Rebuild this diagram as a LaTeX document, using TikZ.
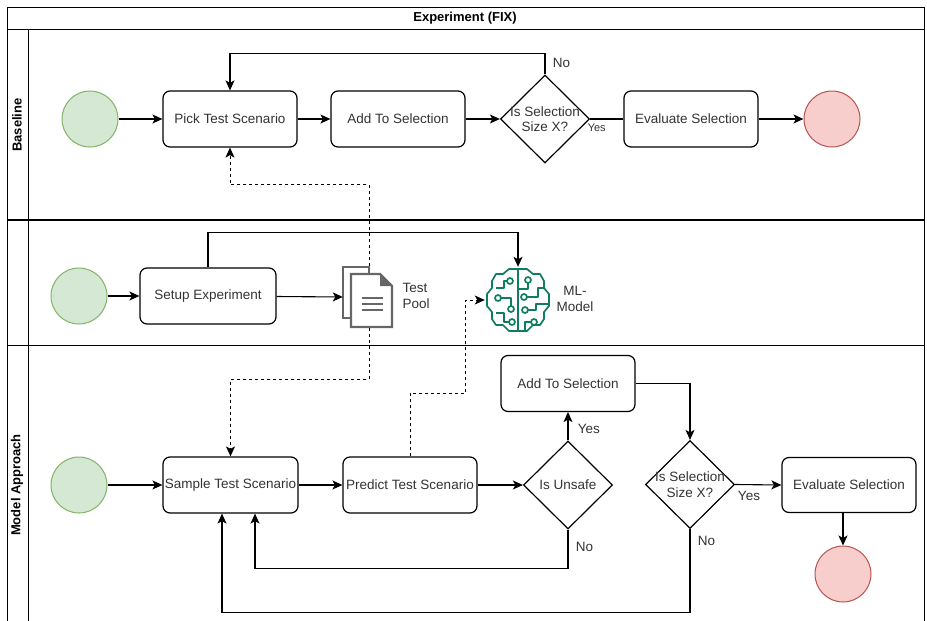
\documentclass[tikz,border=0pt]{standalone}
\usepackage{fontspec}
\setmainfont{Liberation Sans}
\usepackage{xcolor}
\usetikzlibrary{shapes.geometric,arrows.meta,calc,positioning}
\definecolor{startfill}{HTML}{D5E8D4}
\definecolor{startdraw}{HTML}{82B366}
\definecolor{endfill}{HTML}{F8CECC}
\definecolor{enddraw}{HTML}{B85450}
\definecolor{mlgreen}{RGB}{16,125,98}
\definecolor{docgray}{HTML}{666666}
\definecolor{txt}{HTML}{333333}

\begin{document}
\begin{tikzpicture}[x=1pt,y=-1pt,
    every node/.style={font=\fontsize{13.5}{15.5}\selectfont,text=txt},
    task/.style={draw,rounded corners=7pt,line width=1.2pt,minimum width=134pt,minimum height=56pt,inner sep=1pt},
    decision/.style={draw,diamond,line width=1.2pt,minimum width=89pt,minimum height=88pt,inner sep=0pt},
    startev/.style={draw=startdraw,fill=startfill,circle,line width=1pt,minimum size=56pt,inner sep=0pt},
    endev/.style={draw=enddraw,fill=endfill,circle,line width=1pt,minimum size=56pt,inner sep=0pt},
    flow/.style={line width=1.1pt,-{Stealth[length=10pt,width=9pt,inset=2.5pt]}},
    dflow/.style={line width=1pt,dash pattern=on 3pt off 3pt,-{Stealth[length=10pt,width=9pt,inset=2.5pt]}},
    lanetitle/.style={font=\fontsize{13}{15}\selectfont\bfseries,text=black},
    small/.style={font=\fontsize{11}{13}\selectfont}]
  \useasboundingbox (0,0) rectangle (927,621);

  % pool and lanes
  \draw[line width=1pt] (7,621) -- (7,7) -- (924,7) -- (924,621);
  \draw[line width=1pt] (7,29) -- (924,29);
  \draw[line width=1pt] (28,29) -- (28,621);
  \draw[line width=2pt] (7,220) -- (924,220);
  \draw[line width=1pt] (7,345) -- (924,345);
  \node[lanetitle] (title) at (465,18) {Experiment (FIX)};
  \node[lanetitle,rotate=90] (lbase) at (17,125) {Baseline};
  \node[lanetitle,rotate=90] (lmodel) at (17,485) {Model Approach};

  % baseline
  \node[startev] (s1) at (90,119) {};
  \node[task] (pick) at (230,119) {Pick Test Scenario};
  \node[task] (add1) at (398,119) {Add To Selection};
  \node[decision,label={[align=center]center:Is Selection\\Size X?}] (size1) at (545,119) {};
  \node[task] (eval1) at (691,119) {Evaluate Selection};
  \node[endev] (e1) at (832,119) {};

  \draw[flow] (s1) -- (pick);
  \draw[flow] (pick) -- (add1);
  \draw[flow] (add1) -- (size1.west);
  \draw[line width=1.1pt] (size1.east) -- node[small,pos=0.2,below=1pt] (yes1) {Yes} (eval1.west);
  \draw[flow] (eval1) -- (e1);
  \draw[flow] (size1.north) -- node[right=4pt,pos=0.55] (no1) {No} ++(0,-21) -| (pick.north);

  % setup
  \node[startev] (s2) at (79,296) {};
  \node[task,minimum width=136pt] (setup) at (208,296) {Setup Experiment};
  \node[minimum width=52pt,minimum height=62pt] (pool) at (369,297) {};
  \node[anchor=west,align=left] (pooltxt) at (399,296) {Test\\Pool};
  \node[minimum width=66pt,minimum height=66pt] (ml) at (518,300) {};
  \node[align=center] (mltxt) at (575,299) {ML-\\Model};

  \begin{scope}[shift={(pool.center)},draw=docgray,line width=2.2pt,line join=miter]
    \draw (-18,21) -- (-26,21) -- (-26,-30) -- (0,-30) -- (0,-23);
    \draw (-18,-23) -- (11,-23) -- (23,-11) -- (23,30) -- (-18,30) -- cycle;
    \fill[docgray] (11,-23) -- (23,-11) -- (11,-11) -- cycle;
    \foreach \y in {1,7,13}
      \draw (-7,\y) -- (14,\y);
  \end{scope}

  \begin{scope}[shift={(ml.center)},draw=mlgreen,line width=1.7pt,line join=round]
    \draw (0,-31) -- (-9,-31) -- (-15,-26) -- (-22,-26) -- (-26,-19) -- (-26,-12) -- (-31,-6) -- (-31,6)
      -- (-26,12) -- (-26,19) -- (-22,25) -- (-15,25) -- (-9,31) -- (0,31)
      -- (9,31) -- (15,25) -- (22,25) -- (26,19) -- (26,12) -- (31,6) -- (31,-6)
      -- (26,-12) -- (26,-19) -- (22,-26) -- (15,-26) -- (9,-31) -- cycle;
    \draw (0,-31) -- (0,31);
    \draw (-22,-12) -- (-14,-12) -- (-14,-19) -- (-11,-19);
    \draw (-8,-19) circle (3);
    \draw (-20,-2) circle (3);
    \draw (-17,-2) -- (-7,-2) -- (-7,6);
    \draw (-7,9) circle (3);
    \draw (-22,13) -- (-14,13) -- (-14,22) -- (-9,22);
    \draw (-6,22) circle (3);
    \draw (10,-20) circle (3);
    \draw (10,-17) -- (10,-11) -- (0,-11);
    \draw (6,-3) circle (3);
    \draw (9,-3) -- (20,-3) -- (20,-12) -- (26,-12);
    \draw (7,10) circle (3);
    \draw (10,10) -- (18,10) -- (18,4) -- (31,4);
    \draw (16,22) circle (3);
    \draw (13,22) -- (7,22) -- (7,31);
  \end{scope}

  \draw[flow] (s2) -- (setup);
  \draw[flow] (setup) -- (pool.west);
  \draw[flow] (setup.north) -- ++(0,-35) -| (ml.north);

  % model approach
  \node[startev] (s3) at (79,485) {};
  \node[task,minimum width=135pt] (sample) at (230.5,485) {Sample Test Scenario};
  \node[task] (predict) at (410,485) {Predict Test Scenario};
  \node[decision,label={center:Is Unsafe}] (unsafe) at (568,485) {};
  \node[task] (add2) at (568,383.5) {Add To Selection};
  \node[decision,label={[align=center]center:Is Selection\\Size X?}] (size2) at (690,484.5) {};
  \node[task,minimum height=55pt] (eval2) at (849,485) {Evaluate Selection};
  \node[endev] (e2) at (843,574) {};

  \draw[flow] (s3) -- (sample);
  \draw[flow] (sample) -- (predict);
  \draw[flow] (predict) -- (unsafe.west);
  \draw[flow] (unsafe.north) -- node[right=6pt,pos=0.4] (yes2) {Yes} (add2.south);
  \draw[flow] (add2.east) -| (size2.north);
  \draw[flow] (size2.east) -- node[below=3pt,pos=0.3] (yes3) {Yes} (eval2.west);
  \draw[flow] (e2.north |- eval2.south) -- (e2.north);
  \draw[flow] (unsafe.south) -- node[right=4pt,pos=0.45] (no2) {No} ++(0,39) -| ($(sample.south)+(24.5,0)$);
  \draw[flow] (size2.south) -- node[right=4pt,pos=0.14] (no3) {No} ++(0,83.5) -| ($(sample.south)+(-8.5,0)$);

  % data links
  \draw[dflow] (pool.north) -- ++(0,-81) -| (pick.south);
  \draw[dflow] (pool.south) -- ++(0,51) -| (sample.north);
  \draw[dflow] (predict.north) -- ++(0,-63) -| ($(ml.west)+(-19,0)$) -- (ml.west);
\end{tikzpicture}
\end{document}
